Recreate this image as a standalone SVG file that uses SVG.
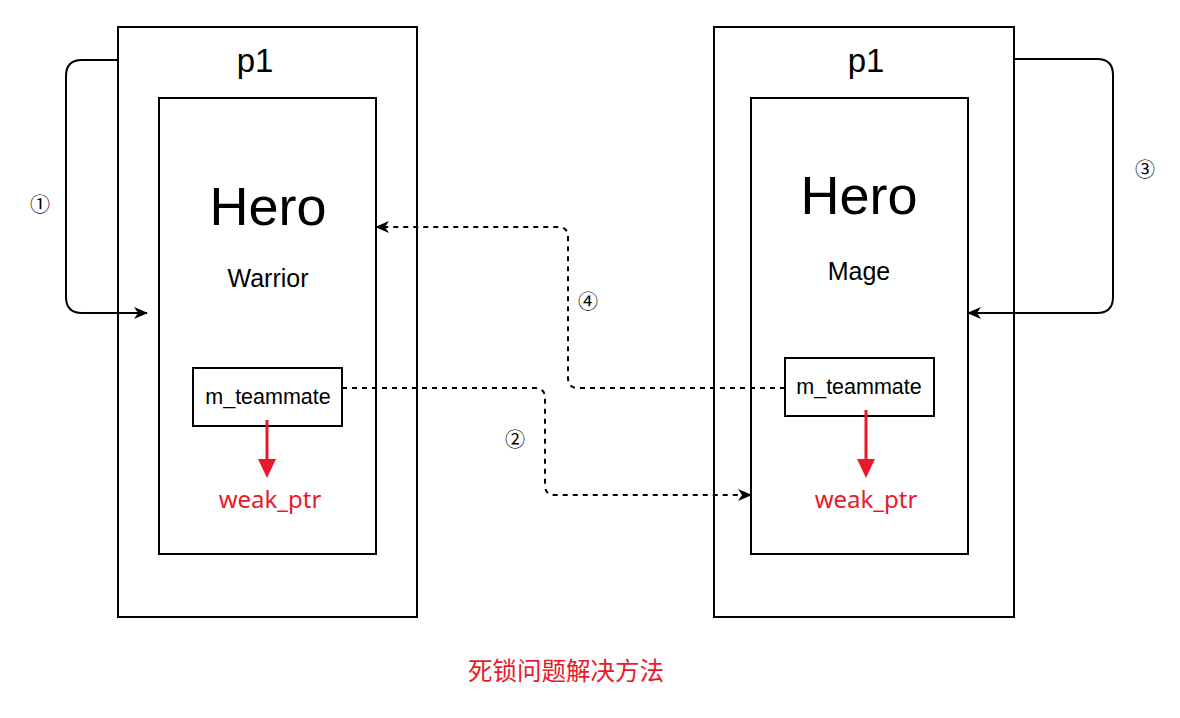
<svg xmlns="http://www.w3.org/2000/svg" width="1180" height="718" viewBox="0 0 1180 718">
<defs>
<style>
.box{fill:#fff;stroke:#000;stroke-width:2}
.t{font-family:"Liberation Sans",Arial,sans-serif;fill:#000;text-anchor:middle}
.red{font-family:"Noto Sans","Noto Sans CJK SC",sans-serif;fill:#e8192c;text-anchor:middle}
.num{font-family:"Noto Sans CJK SC",sans-serif;fill:#000;text-anchor:middle;font-size:20px}
.c{fill:none;stroke:#000;stroke-width:2}
.d{fill:none;stroke:#000;stroke-width:2;stroke-dasharray:5 5}
</style>
<marker id="ah" viewBox="0 0 14 12" refX="13" refY="6" markerWidth="14" markerHeight="12" markerUnits="userSpaceOnUse" orient="auto">
<path d="M0,0 L14,6 L0,12 L4,6 Z" fill="#000"/>
</marker>
</defs>
<rect width="1180" height="718" fill="#fff"/>

<g id="left-p1">
<rect class="box" x="118" y="27" width="299" height="590"/>
<text class="t" x="255" y="72" font-size="33">p1</text>
</g>
<g id="left-hero">
<rect class="box" x="159" y="98" width="217" height="456"/>
<text class="t" x="268" y="225" font-size="54">Hero</text>
<text class="t" x="268" y="287" font-size="25">Warrior</text>
</g>
<g id="left-teammate">
<rect class="box" x="193" y="368" width="149" height="58"/>
<text class="t" x="268" y="404" font-size="21.5">m_teammate</text>
</g>
<g id="left-weak">
<line x1="267" y1="420" x2="267" y2="462" stroke="#e8192c" stroke-width="3"/>
<path d="M258,459 L276,459 L267,478 Z" fill="#e8192c"/>
<text class="red" x="270" y="508" font-size="24">weak_ptr</text>
</g>

<g id="right-p1">
<rect class="box" x="714" y="27" width="300" height="590"/>
<text class="t" x="866" y="72" font-size="33">p1</text>
</g>
<g id="right-hero">
<rect class="box" x="751" y="98" width="217" height="456"/>
<text class="t" x="859" y="214" font-size="54">Hero</text>
<text class="t" x="859" y="280" font-size="25">Mage</text>
</g>
<g id="right-teammate">
<rect class="box" x="785" y="358" width="149" height="58"/>
<text class="t" x="859" y="394" font-size="21.5">m_teammate</text>
</g>
<g id="right-weak">
<line x1="866" y1="410" x2="866" y2="462" stroke="#e8192c" stroke-width="3"/>
<path d="M857,459 L875,459 L866,478 Z" fill="#e8192c"/>
<text class="red" x="866" y="508" font-size="24">weak_ptr</text>
</g>

<g id="connectors">
<path class="c" d="M118,60 L82,60 Q66,60 66,76 L66,297 Q66,313 82,313 L147,313" marker-end="url(#ah)"/>
<path class="c" d="M1014,59 L1097,59 Q1113,59 1113,75 L1113,297 Q1113,313 1097,313 L968,313" marker-end="url(#ah)"/>
<path class="d" d="M785,388 L578,388 Q568,388 568,378 L568,237 Q568,227 558,227 L376,227" marker-end="url(#ah)"/>
<path class="d" d="M342,388 L535,388 Q545,388 545,398 L545,485 Q545,495 555,495 L751,495" marker-end="url(#ah)"/>
</g>

<g id="labels">
<text class="num" x="40" y="212">①</text>
<text class="num" x="515" y="447">②</text>
<text class="num" x="1145" y="177">③</text>
<text class="num" x="588" y="309">④</text>
<text class="red" x="566" y="680" font-size="24.5">死锁问题解决方法</text>
</g>
</svg>
